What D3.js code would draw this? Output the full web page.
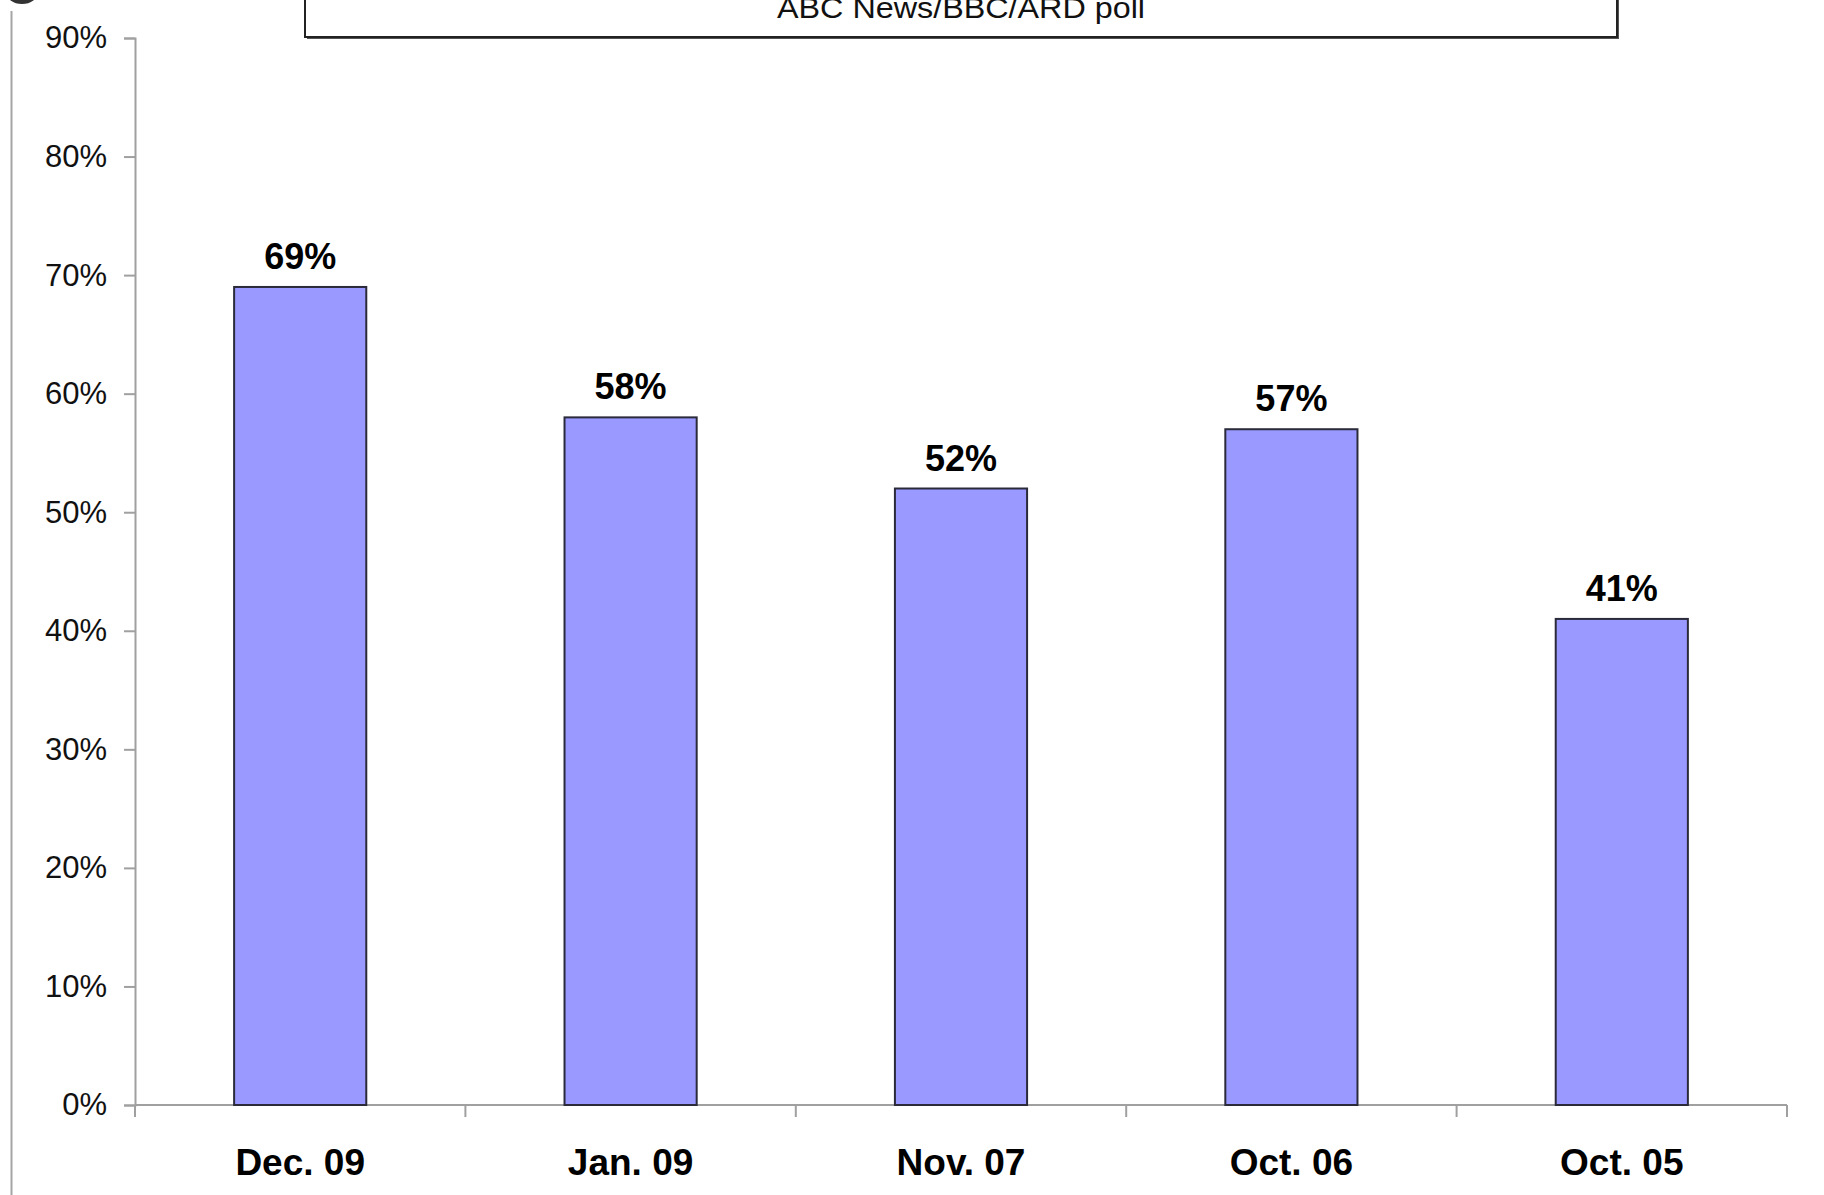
<!DOCTYPE html>
<html>
<head>
<meta charset="utf-8">
<script src="https://cdn.jsdelivr.net/npm/d3@7"></script>
<style>
  body { margin: 0; background: #fff; }
  text { font-family: "Liberation Sans", Arial, sans-serif; }
</style>
</head>
<body>
<script>
var svg_width  = 1824;
var svg_height = 1195;

// data
var categories = ["Dec. 09", "Jan. 09", "Nov. 07", "Oct. 06", "Oct. 05"];
var values     = [0.69, 0.58, 0.52, 0.57, 0.41];
var yTicks     = [0, 0.1, 0.2, 0.3, 0.4, 0.5, 0.6, 0.7, 0.8, 0.9];
var titleText  = "ABC News/BBC/ARD poll";

var svg = d3.select('body').append('svg')
            .attr('width', svg_width)
            .attr('height', svg_height);

// plot edges (note: "top" is taken by window.top)
var plotLeft = 135, plotRight = 1787, plotTop = 38, plotBottom = 1105;

var x = d3.scaleBand()
          .domain(categories)
          .range([plotLeft, plotRight])
          .padding(0);

var y = d3.scaleLinear()
          .domain([0, 0.9])
          .range([plotBottom, plotTop]);

// stray shape in the top left corner
svg.append("ellipse")
   .attr("cx", 22).attr("cy", -8)
   .attr("rx", 16).attr("ry", 12)
   .attr("fill", "#333");

// thin frame line on the far left
svg.append("line")
   .attr("x1", 11.5).attr("x2", 11.5)
   .attr("y1", 11).attr("y2", svg_height)
   .attr("stroke", "#a6a6a6").attr("stroke-width", 2);

// title box (cut off at the top)
svg.append("rect")
   .attr("x", 307).attr("y", -40)
   .attr("width", 1312).attr("height", 79)
   .attr("fill", "#555");
svg.append("rect")
   .attr("x", 305).attr("y", -40)
   .attr("width", 1312).attr("height", 77)
   .attr("fill", "#fff")
   .attr("stroke", "#222").attr("stroke-width", 2);
svg.append("text")
   .attr("x", 961).attr("y", 18)
   .attr("text-anchor", "middle")
   .attr("font-size", 30)
   .attr("textLength", 368)
   .attr("lengthAdjust", "spacingAndGlyphs")
   .attr("fill", "#111")
   .text(titleText);

// y axis
var yAxis = d3.axisLeft(y)
              .tickValues(yTicks)
              .tickFormat(d3.format(".0%"))
              .tickSize(11)
              .tickPadding(17);

var gy = svg.append("g")
            .attr("transform", "translate(" + plotLeft + ",0)")
            .call(yAxis);
gy.select(".domain").attr("stroke", "#a0a0a0").attr("stroke-width", 2);
gy.selectAll(".tick line").attr("stroke", "#a0a0a0").attr("stroke-width", 2);
gy.selectAll(".tick text")
  .attr("font-size", 31)
  .attr("font-family", "Liberation Sans, Arial, sans-serif")
  .attr("fill", "#111");

// x axis line with ticks at category boundaries
var boundaries = categories.map(function(c){ return x(c); }).concat([plotRight]);
svg.append("line")
   .attr("x1", plotLeft).attr("x2", plotRight)
   .attr("y1", plotBottom).attr("y2", plotBottom)
   .attr("stroke", "#a0a0a0").attr("stroke-width", 2);
svg.append("g").selectAll("line")
   .data(boundaries)
   .enter().append("line")
   .attr("x1", d => d).attr("x2", d => d)
   .attr("y1", plotBottom).attr("y2", plotBottom + 12)
   .attr("stroke", "#a0a0a0").attr("stroke-width", 2);

// bars
var barW = x.bandwidth() * 0.4;
svg.append("g").selectAll("rect")
   .data(values)
   .enter().append("rect")
   .attr("x", (d, i) => x(categories[i]) + (x.bandwidth() - barW) / 2)
   .attr("y", d => y(d))
   .attr("width", barW)
   .attr("height", d => y(0) - y(d))
   .attr("fill", "#9999ff")
   .attr("stroke", "#2a2a3a")
   .attr("stroke-width", 2);

// value labels
svg.append("g").selectAll("text")
   .data(values)
   .enter().append("text")
   .attr("x", (d, i) => x(categories[i]) + x.bandwidth() / 2)
   .attr("y", d => y(d) - 18)
   .attr("text-anchor", "middle")
   .attr("font-size", 36)
   .attr("font-weight", "bold")
   .attr("fill", "#000")
   .text(d => d3.format(".0%")(d));

// category labels
svg.append("g").selectAll("text")
   .data(categories)
   .enter().append("text")
   .attr("x", d => x(d) + x.bandwidth() / 2)
   .attr("y", 1175)
   .attr("text-anchor", "middle")
   .attr("font-size", 37)
   .attr("font-weight", "bold")
   .attr("fill", "#000")
   .text(d => d);
</script>
</body>
</html>
